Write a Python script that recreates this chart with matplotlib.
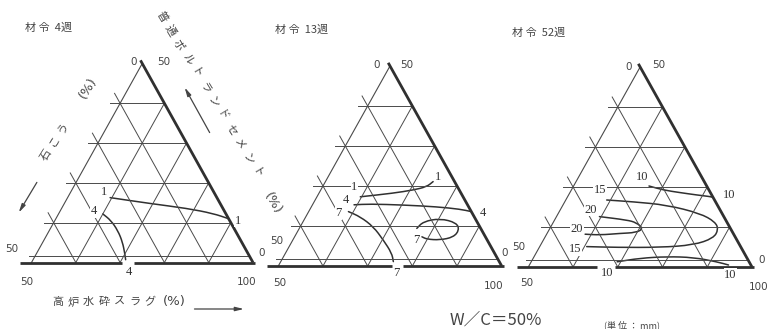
import numpy as np
import matplotlib
matplotlib.use("Agg")
import matplotlib.pyplot as plt
from matplotlib.path import Path
from matplotlib.patches import PathPatch, FancyArrowPatch

plt.rcParams['font.family'] = ['Noto Sans CJK JP', 'DejaVu Sans']

W, H = 771, 329

# contour lines as (OPC %, gypsum %); slag = 100 - OPC - gypsum
# 材令 4週
w4_c1_opc = [16.3, 14.8, 13.6, 12.3, 11.0]
w4_c1_gyp = [24.1, 15.7, 8.1, 2.8, 0.0]
w4_c4_opc = [12.2, 10.6, 8.0, 5.1, 2.3, 0.7]
w4_c4_gyp = [27.8, 26.8, 26.5, 26.9, 27.8, 28.4]

# 材令 13週
w13_c1_opc = [17.3, 18.2, 19.0, 19.8, 21.1]
w13_c1_gyp = [23.0, 15.2, 10.3, 6.9, 4.8]
w13_c4_opc = [15.3, 15.5, 15.25, 14.8, 14.2, 13.6]
w13_c4_gyp = [25.4, 21.7, 14.4, 7.1, 2.2, 0.0]
w13_c7a_opc = [13.6, 12.3, 9.8, 6.5, 3.2, 1.1]
w13_c7a_gyp = [27.5, 25.5, 23.8, 23.25, 23.0, 23.7]
w13_c7b_opc = [9.4, 11.1, 11.9, 10.8, 9.0, 7.2, 6.5, 6.7, 7.3]
w13_c7b_gyp = [14.3, 12.0, 7.85, 4.7, 5.0, 7.2, 10.6, 13.4, 14.2]

# 材令 52週
w52_c10a_opc = [20.25, 19.25, 18.6, 18.0, 17.6, 17.4]
w52_c10a_gyp = [12.9, 10.2, 6.8, 3.3, 0.5, 0.0]
w52_c15_opc = [16.75, 16.3, 15.5, 13.4, 11.3, 9.4, 7.2, 5.5, 4.9, 4.9, 5.1]
w52_c15_gyp = [24.1, 18.4, 11.3, 4.9, 2.6, 2.8, 5.0, 10.3, 18.1, 27.75, 34.4]
w52_c20_opc = [12.6, 11.75, 11.1, 9.6, 8.6, 8.4, 8.0, 8.2]
w52_c20_gyp = [27.8, 22.1, 20.3, 19.5, 21.6, 25.3, 30.0, 33.2]
w52_c10b_opc = [1.3, 2.2, 2.6, 2.4, 1.3, 0.5]
w52_c10b_gyp = [29.5, 23.9, 17.7, 11.9, 7.2, 5.0]

grid_levels = [10, 20, 30, 40]
low_line = 1.75

GRID = '#4a4a4a'
INK = '#303030'
TXT = '#444444'
SERIF = 'Liberation Serif'


def tern(opc, gyp):
    u = np.asarray(opc, float) / 50.0
    v = np.asarray(gyp, float) / 50.0
    w = 1 - u - v
    return 0.5 * u + w, u


def uvw(u, w):
    return 0.5 * u + w, u


def smooth(ax, xs, ys):
    # quadratic b-spline through the read points
    pts = np.column_stack([xs, ys])
    mids = (pts[:-1] + pts[1:]) / 2
    verts = [pts[0], mids[0]]
    codes = [Path.MOVETO, Path.LINETO]
    for i in range(1, len(pts) - 1):
        verts += [pts[i], mids[i]]
        codes += [Path.CURVE3, Path.CURVE3]
    verts.append(pts[-1])
    codes.append(Path.LINETO)
    ax.add_patch(PathPatch(Path(verts, codes), fill=False, ec=INK, lw=1.1,
                           clip_on=False, capstyle='round'))


# (opc, gyp, label, start label offset px, end label offset px)
panels = [
    dict(box=(31.5, 63.5, 253.0, 262.5), gap=(0.41, 0.463),
         contours=[(w4_c1_opc, w4_c1_gyp, '1', (-6, 6), (9, -2)),
                   (w4_c4_opc, w4_c4_gyp, '4', (-9, 3), (3, -12))]),
    dict(box=(278.3, 66.0, 501.7, 266.0), gap=(0.508, 0.56),
         contours=[(w13_c1_opc, w13_c1_gyp, '1', (-6, 9.5), (5, 5)),
                   (w13_c4_opc, w13_c4_gyp, '4', (-8, 5), (12, -1)),
                   (w13_c7a_opc, w13_c7a_gyp, '7', (-10, -1.5), (3, -11.5)),
                   (w13_c7b_opc, w13_c7b_gyp, '7', None, (-6, -3))]),
    dict(box=(528.3, 67.0, 752.0, 267.0), gap=(0.306, 0.388),
         contours=[(w52_c10a_opc, w52_c10a_gyp, '10', (-7, 9), (16, 2)),
                   (w52_c15_opc, w52_c15_gyp, '15', (-7, 10), (-12, -2.5)),
                   (w52_c20_opc, w52_c20_gyp, '20', (-9, 7), (-8, 5)),
                   (w52_c10b_opc, w52_c10b_gyp, '10', (-10, -11.5), (2, -10))]),
]

fig = plt.figure(figsize=(W / 100, H / 100), dpi=100)

for p in panels:
    x0, y0, x1, y1 = p['box']
    ax = fig.add_axes([x0 / W, 1 - y1 / H, (x1 - x0) / W, (y1 - y0) / H])
    ax.set_xlim(0, 1)
    ax.set_ylim(0, 1)
    ax.axis('off')

    # grid
    for g in grid_levels:
        t = g / 50.0
        # constant OPC (horizontal), extended past the left edge
        xa, ya = uvw(t, -0.045)
        xb, yb = uvw(t, 1 - t)
        ax.plot([xa, xb], [ya, yb], color=GRID, lw=0.7, clip_on=False)
        # constant gypsum, extended past the left edge
        xa, ya = uvw(1 - t + 0.05, -0.05)
        xb, yb = uvw(0, 1 - t)
        ax.plot([xa, xb], [ya, yb], color=GRID, lw=0.7, clip_on=False)
        # constant slag
        xa, ya = uvw(0, t)
        xb, yb = uvw(1 - t, t)
        ax.plot([xa, xb], [ya, yb], color=GRID, lw=0.7, clip_on=False)
    t = low_line / 50.0
    xa, ya = uvw(t, -0.03)
    xb, yb = uvw(t, 1 - t)
    ax.plot([xa, xb], [ya, yb], color=GRID, lw=0.7, clip_on=False)

    # edges
    ax.plot([0, 0.5], [0, 1], color=GRID, lw=0.8, clip_on=False)
    ax.plot([1.0, 0.5 - 0.008], [0, 1.016], color=INK, lw=2.0, clip_on=False,
            solid_capstyle='butt')
    g0, g1 = p['gap']
    ax.plot([-0.05, g0], [0, 0], color=INK, lw=2.0, clip_on=False, solid_capstyle='butt')
    ax.plot([g1, 1.01], [0, 0], color=INK, lw=2.0, clip_on=False, solid_capstyle='butt')

    # contours
    for opc, gyp, lab, off0, off1 in p['contours']:
        xs, ys = tern(opc, gyp)
        smooth(ax, xs, ys)
        for off, k in ((off0, 0), (off1, -1)):
            if off is None:
                continue
            ax.annotate(lab, (xs[k], ys[k]), xytext=off, textcoords='offset pixels',
                        ha='center', va='center', fontsize=9, family=SERIF,
                        color=INK, annotation_clip=False,
                        bbox=dict(boxstyle='square,pad=0.05', fc='white', ec='none'))


def ftext(x, y, s, **kw):
    kw.setdefault('color', TXT)
    kw.setdefault('ha', 'center')
    kw.setdefault('va', 'center')
    fig.text(x / W, 1 - y / H, s, **kw)


# titles
ftext(25, 28, '材 令  4週', ha='left', fontsize=8)
ftext(275, 30, '材 令  13週', ha='left', fontsize=8)
ftext(512, 33, '材 令  52週', ha='left', fontsize=8)

# vertex numbers
num = dict(fontsize=7.5, family='DejaVu Sans', color=TXT)
vertex_labels = [
    [(133.3, 62, '0'), (163.3, 62, '50'), (12, 249.3, '50'), (261.7, 253.3, '0'),
     (26.7, 281.7, '50'), (246.7, 281.7, '100')],
    [(376.7, 65, '0'), (406.7, 65, '50'), (276.7, 240.7, '50'), (505, 252.7, '0'),
     (280, 283.3, '50'), (493.3, 286, '100')],
    [(628.3, 66.7, '0'), (658.3, 65, '50'), (518.3, 246.7, '50'), (761.7, 260, '0'),
     (526.7, 283.3, '50'), (758.3, 287.3, '100')],
]
for labs in vertex_labels:
    for x, y, s in labs:
        ftext(x, y, s, **num)

# axis titles, spaced out character by character
opc_title = '普通ポルトランドセメント'
ang = np.deg2rad(58.8)
for i, ch in enumerate(opc_title):
    ftext(161.7 + i * 16.6 * np.cos(ang), 16.7 + i * 16.6 * np.sin(ang), ch,
          rotation=-58.8, fontsize=8)
ftext(273, 203, '(%)', rotation=-58.8, fontsize=9.5, family='DejaVu Sans')

gyp_title = '石こう'
ang = np.deg2rad(58)
for i, ch in enumerate(gyp_title):
    ftext(46.7 + i * 15.5 * np.cos(ang), 155 - i * 15.5 * np.sin(ang), ch,
          rotation=58, fontsize=8)
ftext(88.3, 88.3, '(%)', rotation=58, fontsize=9.5, family='DejaVu Sans')

slag_title = '高炉水砕スラグ'
for i, ch in enumerate(slag_title):
    ftext(58 + i * 15.3, 301.7, ch, fontsize=8)
ftext(174, 301.7, '(%)', fontsize=9.5, family='DejaVu Sans')

for (xa, ya), (xb, yb) in [((38.3, 180), (17.3, 215)), ((211, 135), (183.3, 85)),
                           ((191.7, 309), (246.7, 309))]:
    fig.add_artist(FancyArrowPatch(
        (xa / W, 1 - ya / H), (xb / W, 1 - yb / H), transform=fig.transFigure,
        arrowstyle='-|>,head_length=0.5,head_width=0.12', color=TXT, lw=0.9,
        mutation_scale=10))

ftext(495.5, 320, 'W／C＝50%', fontsize=12)
ftext(631.5, 325, '(単 位 ： mm)', fontsize=6.5)

fig.savefig('out.png', dpi=100, facecolor='white')
